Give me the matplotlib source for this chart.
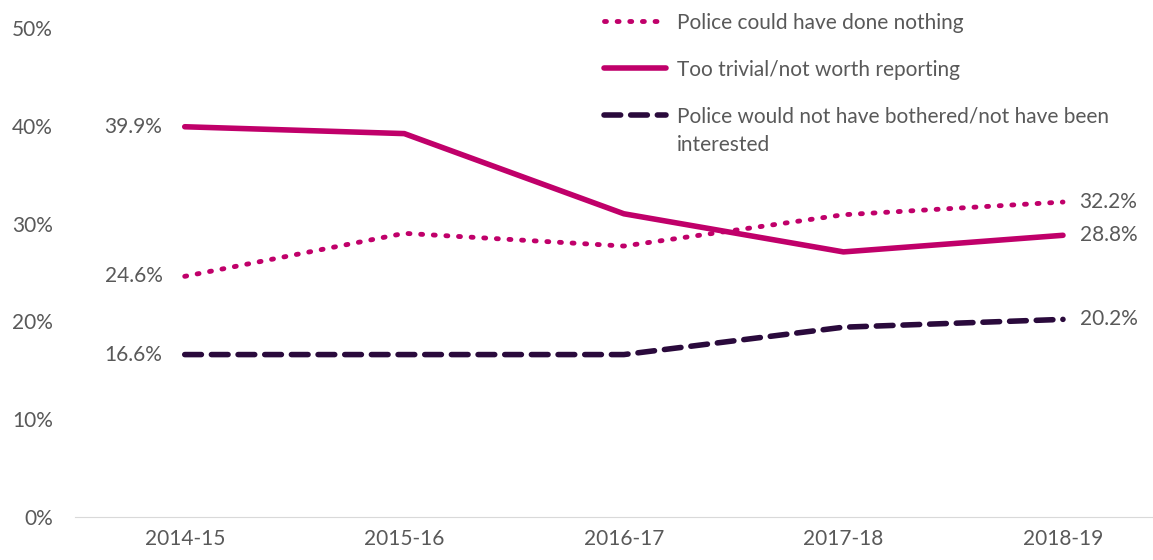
import matplotlib.pyplot as plt

plt.rcParams['font.family'] = ['Lato', 'DejaVu Sans']

anos = ['2014-15', '2015-16', '2016-17', '2017-18', '2018-19']
nada_a_fazer = [24.6, 29.0, 27.7, 30.9, 32.2]
trivial = [39.9, 39.2, 31.0, 27.1, 28.8]
nao_interessada = [16.6, 16.6, 16.6, 19.4, 20.2]

rosa = '#C0006A'
roxo = '#2A0A3C'
cinza = '#595959'
fs = 15

fig = plt.figure(figsize=(11.53, 5.6), dpi=100)
ax = fig.add_axes([0.065, 0.077, 0.935, 0.873])

x = range(len(anos))
ax.plot(x, nada_a_fazer, color=rosa, lw=3.5, linestyle=(0, (0.4, 2.2)),
        dash_capstyle='round', label='Police could have done nothing')
ax.plot(x, trivial, color=rosa, lw=4, solid_capstyle='round',
        label='Too trivial/not worth reporting')
ax.plot(x, nao_interessada, color=roxo, lw=4, linestyle=(0, (3, 1.8)),
        dash_capstyle='round',
        label='Police would not have bothered/not have been')

# rótulos no início e no fim
for serie in (nada_a_fazer, trivial, nao_interessada):
    ax.annotate(f'{serie[0]:.1f}%', (0, serie[0]), xytext=(-16, 0),
                textcoords='offset points', ha='right', va='center',
                fontsize=fs, color=cinza)
    ax.annotate(f'{serie[-1]:.1f}%', (len(anos) - 1, serie[-1]), xytext=(12, 0),
                textcoords='offset points', ha='left', va='center',
                fontsize=fs, color=cinza)

ax.set_xlim(-0.5, 4.41)
ax.set_ylim(0, 50)
ax.set_xticks(list(x))
ax.set_xticklabels(anos)
ax.set_yticks([0, 10, 20, 30, 40, 50])
ax.set_yticklabels([f'{v}%' for v in [0, 10, 20, 30, 40, 50]])
ax.tick_params(axis='both', length=0, labelsize=fs, labelcolor=cinza)
ax.tick_params(axis='y', pad=16)
ax.tick_params(axis='x', pad=9)

for lado in ['top', 'right', 'left']:
    ax.spines[lado].set_visible(False)
ax.spines['bottom'].set_color('#D9D9D9')

leg = ax.legend(loc='upper left', bbox_to_anchor=(0.473, 1.07), frameon=False,
                fontsize=fs, handlelength=3.0, handletextpad=0.5,
                labelspacing=1.3, labelcolor=cinza)

# segunda linha da última entrada, abaixo do texto da legenda
fig.canvas.draw()
bb = leg.get_texts()[2].get_window_extent()
fig.text(bb.x0 / fig.bbox.width, (bb.y0 - 28) / fig.bbox.height, 'interested',
         fontsize=fs, color=cinza, ha='left', va='bottom')

plt.savefig('out.png', dpi=100)
